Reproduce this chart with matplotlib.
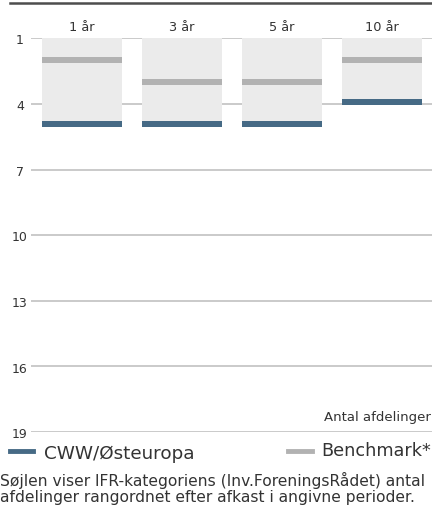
import matplotlib.pyplot as plt
from matplotlib.lines import Line2D

# rangering pr. periode
perioder = ['1 år', '3 år', '5 år', '10 år']
antal_afdelinger = [5, 5, 5, 4]
rang_fond = [5, 5, 5, 4]
rang_benchmark = [2, 3, 3, 2]
y_ticks = [1, 4, 7, 10, 13, 16, 19]

BLAA = '#466a85'
GRAA = '#b2b2b2'
BOKS = '#ebebeb'
GRID = '#c6c6c6'
TEKST = '#333333'

W, H = 432, 508
fig = plt.figure(figsize=(W / 100, H / 100), dpi=100)
plt.rcParams['font.family'] = 'DejaVu Sans'

# akse fra y=1 (px 38) til y=19 (px 432)
ax = fig.add_axes([31 / W, 1 - 432 / H, 401 / W, (432 - 38.3) / H])
ax.set_xlim(-0.51, 3.5)
ax.set_ylim(19, 1)
ax.axis('off')

for v in y_ticks:
    ax.axhline(v, color=GRID, lw=1.3, zorder=0)
    ax.text(-0.51 - 0.11, v + 0.12, str(v), ha='center', va='center',
            fontsize=9, color=TEKST, clip_on=False)

h = 0.27
for i, p in enumerate(perioder):
    n = antal_afdelinger[i]
    ax.bar(i, n - 1 + 0.05, bottom=1, width=0.8, color=BOKS, zorder=1)
    for rang, farve in [(rang_benchmark[i], GRAA), (rang_fond[i], BLAA)]:
        c = min(rang, n + 0.05 - h / 2)
        ax.bar(i, h, bottom=c - h / 2, width=0.8, color=farve, zorder=2)
    ax.text(i, 0.5, p, ha='center', va='center', fontsize=9.3,
            color=TEKST, clip_on=False)

ax.text(3.49, 18.35, 'Antal afdelinger', ha='right', va='center',
        fontsize=9.5, color=TEKST, clip_on=False)

# mørk streg øverst
fig.add_artist(Line2D([10 / W, 1], [1 - 2.5 / H] * 2, color='#4d4d4d', lw=1.8))

# signaturforklaring
ly = 1 - 451 / H
fig.add_artist(Line2D([10 / W, 33 / W], [ly, ly], color=BLAA, lw=3.5))
fig.text(44 / W, 1 - 454 / H, 'CWW/Østeuropa', ha='left', va='center',
         fontsize=13.2, color=TEKST)
fig.add_artist(Line2D([288 / W, 312 / W], [ly, ly], color=GRAA, lw=3.5))
fig.text(321 / W, 1 - 451 / H, 'Benchmark*', ha='left', va='center',
         fontsize=12.7, color=TEKST)

fig.text(0, 1 - 480 / H, 'Søjlen viser IFR-kategoriens (Inv.ForeningsRådet) antal',
         ha='left', va='center', fontsize=11.2, color=TEKST)
fig.text(0, 1 - 497.5 / H, 'afdelinger rangordnet efter afkast i angivne perioder.',
         ha='left', va='center', fontsize=11.2, color=TEKST)

fig.savefig('out.png', dpi=100)
